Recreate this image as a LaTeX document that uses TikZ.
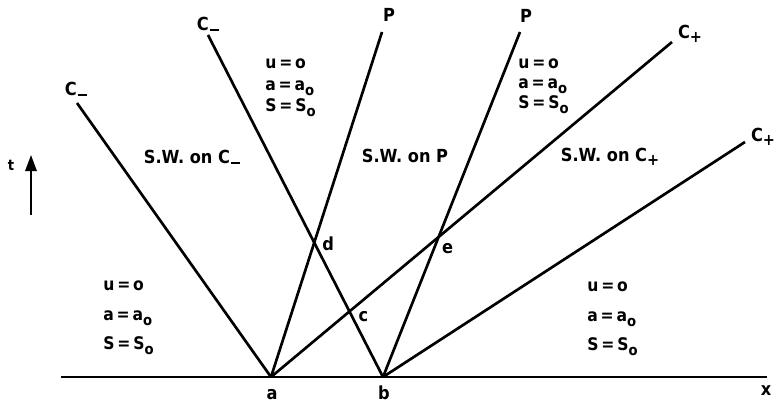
\documentclass[tikz,border=0pt]{standalone}
\usepackage{fontspec}
\setmainfont{DejaVu Sans Condensed}
\usetikzlibrary{arrows.meta,calc}
\newcommand{\subo}{\raisebox{-0.5ex}{\fontsize{11}{11}\selectfont o}}
\newcommand{\Cm}{C\hspace{0.6pt}\rule[-0.8pt]{7pt}{1.6pt}}
\newcommand{\Cp}{C\raisebox{-0.4ex}{\fontsize{12}{12}\selectfont +}}
\newcommand{\stt}[1]{u\,=\,o\\[#1]a\,=\,a\subo\\[#1]S\,=\,S\subo}
\begin{document}
\begin{tikzpicture}[x=0.75pt,y=-0.75pt,
  wave/.style={line width=2pt},
  axis/.style={line width=1.5pt},
  lbl/.style={font=\fontsize{13.5}{15}\selectfont\bfseries, inner sep=0pt},
  state/.style={font=\fontsize{13}{16}\selectfont\bfseries, inner sep=0pt, align=left, anchor=north west}]
\useasboundingbox (0,0) rectangle (777,407);
% base points
\coordinate (a) at (271,377);
\coordinate (b) at (383,377);
\coordinate (axL) at (61,377);
\coordinate (axR) at (767,377);
% end points
\coordinate (aCm) at (77,103);
\coordinate (aP) at (382,32);
\coordinate (aCp) at (672,42);
\coordinate (bCm) at (208,35);
\coordinate (bP) at (520,32);
\coordinate (bCp) at (745,142);
% axis
\draw[axis] (axL) -- (axR);
% waves
\draw[wave] (a) -- (aCm);
\draw[wave] (a) -- (aP);
\draw[wave] (a) -- (aCp);
\draw[wave] (b) -- (bCm);
\draw[wave] (b) -- (bP);
\draw[wave] (b) -- (bCp);
% intersections
\coordinate (c) at (intersection of a--aCp and b--bCm);
\coordinate (d) at (intersection of a--aP and b--bCm);
\coordinate (e) at (intersection of a--aCp and b--bP);
% end labels
\node[lbl] (laCm) at (76,89) {\Cm};
\node[lbl] (laP) at (389,15) {P};
\node[lbl] (laCp) at (690,34) {\Cp};
\node[lbl] (lbCm) at (208,24) {\Cm};
\node[lbl] (lbP) at (526,16) {P};
\node[lbl] (lbCp) at (763,137) {\Cp};
% point labels
\node[lbl] (la) at (272,395) {a};
\node[lbl] (lb) at (384,393) {b};
\node[lbl] (lc) at ($(c)+(14,5)$) {c};
\node[lbl] (ld) at ($(d)+(14,1)$) {d};
\node[lbl] (le) at ($(e)+(9,12)$) {e};
\node[lbl] (lx) at (766,391) {x};
% region labels
\node[lbl] (sw1) at (192,157) {S.W. on \Cm};
\node[lbl] (sw2) at (405,156) {S.W. on P};
\node[lbl] (sw3) at (610,157) {S.W. on \Cp};
% states
\node[state] (st1) at (265,59) {\stt{0pt}};
\node[state] (st2) at (518,59) {\stt{-1pt}};
\node[state] (st3) at (103,281) {\stt{6pt}};
\node[state] (st4) at (587,282) {\stt{6pt}};
% time arrow
\coordinate (tb) at (31,215);
\coordinate (tt) at (31,155);
\draw[line width=1.5pt,-{Triangle[length=12pt,width=8.5pt]}] (tb) -- (tt);
\node[lbl, font=\fontsize{11}{12}\selectfont\bfseries] (lt) at (11,165) {t};
\end{tikzpicture}
\end{document}
